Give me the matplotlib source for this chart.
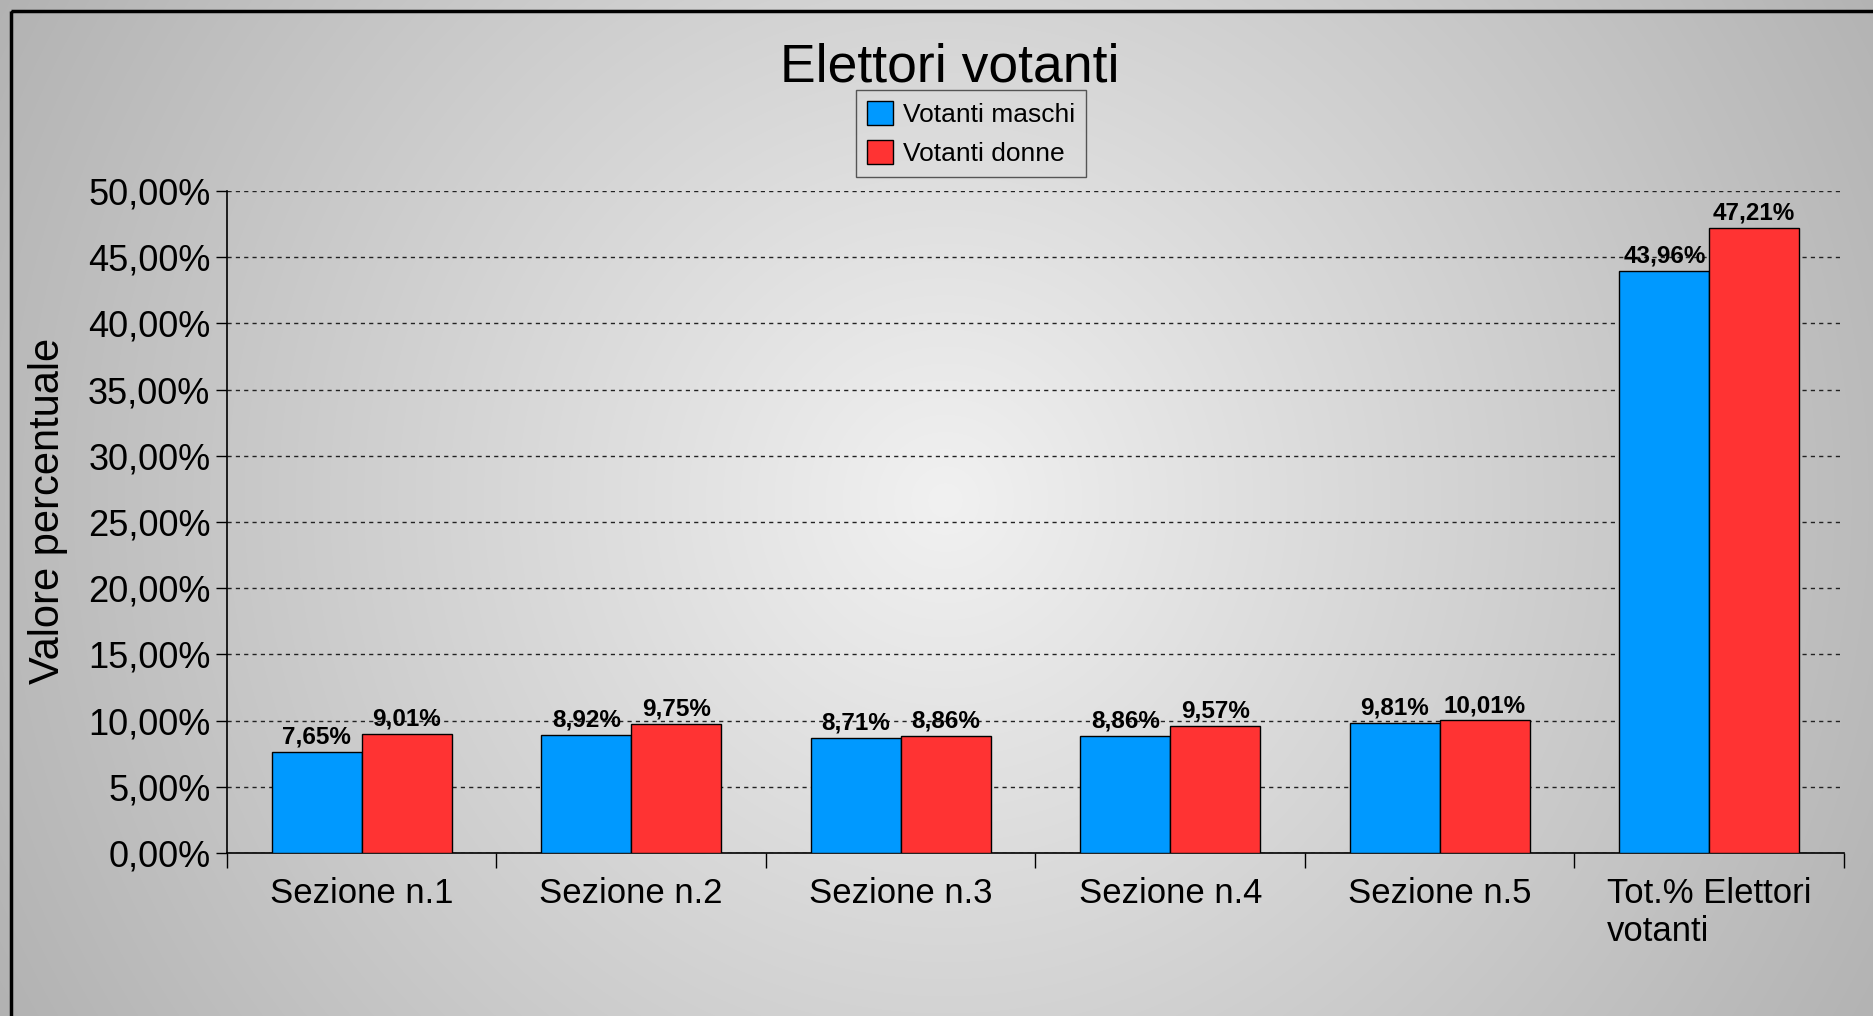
import numpy as np
import matplotlib
matplotlib.use("Agg")
import matplotlib.pyplot as plt
from matplotlib.patches import Rectangle
from matplotlib.ticker import FixedLocator, FuncFormatter

plt.rcParams['font.family'] = ['Liberation Sans', 'DejaVu Sans']

categories = ["Sezione n.1", "Sezione n.2", "Sezione n.3", "Sezione n.4", "Sezione n.5",
              "Tot.% Elettori\nvotanti"]
maschi = [7.65, 8.92, 8.71, 8.86, 9.81, 43.96]
donne = [9.01, 9.75, 8.86, 9.57, 10.01, 47.21]
series_names = ["Votanti maschi", "Votanti donne"]
yticks = [0, 5, 10, 15, 20, 25, 30, 35, 40, 45, 50]

W, H = 1874, 1016
fig = plt.figure(figsize=(W / 100, H / 100), dpi=100)

# radial gradient background
bg = fig.add_axes([0, 0, 1, 1], zorder=-10)
yy, xx = np.mgrid[0:H, 0:W]
cx, cy = 945, 500
r = np.sqrt((xx - cx) ** 2 + (yy - cy) ** 2)
val = 241 - 62 * r / 1060.0
val = np.clip(val, 170, 245) / 255.0
img = np.dstack([val, val, val])
bg.imshow(img, extent=[0, W, H, 0], aspect='auto', interpolation='bilinear')
bg.set_xlim(0, W)
bg.set_ylim(H, 0)
bg.axis('off')
# frame (left and top visible)
bg.add_patch(Rectangle((11, 11), W + 50, H + 50, fill=False, edgecolor='black', linewidth=2.5))

ax = fig.add_axes([227 / W, 1 - 853 / H, (1844 - 227) / W, (853 - 191) / H])
ax.set_facecolor('none')

x = np.arange(len(categories))
w = 1 / 3
b1 = ax.bar(x - w / 2, maschi, w, color='#0099ff', edgecolor='black', linewidth=1, zorder=3,
            label=series_names[0])
b2 = ax.bar(x + w / 2, donne, w, color='#ff3333', edgecolor='black', linewidth=1, zorder=3,
            label=series_names[1])

fmt = lambda v: f"{v:.2f}".replace('.', ',') + '%'
for bars, vals in ((b1, maschi), (b2, donne)):
    for bar, v in zip(bars, vals):
        ax.text(bar.get_x() + bar.get_width() / 2, v + 0.25, fmt(v), ha='center', va='bottom',
                fontsize=17.5, fontweight='bold', zorder=4)

ax.set_xlim(-0.5, len(categories) - 0.5)
ax.set_ylim(0, 50)
ax.yaxis.set_major_locator(FixedLocator(yticks))
ax.yaxis.set_major_formatter(FuncFormatter(lambda v, p: fmt(v)))
ax.tick_params(axis='y', labelsize=26, length=8, width=1, direction='out', pad=4)
ax.set_xticks(x)
ax.set_xticklabels(categories, fontsize=25)
for lbl in ax.get_xticklabels():
    lbl.set_multialignment('left')
ax.tick_params(axis='x', which='major', length=0, pad=17)
ax.set_xticks(np.arange(-0.5, len(categories), 1), minor=True)
ax.tick_params(axis='x', which='minor', length=11, width=1, direction='out')

ax.grid(axis='y', linestyle=(0, (3, 3)), color='#222222', linewidth=1, zorder=0)
ax.set_axisbelow(True)
for s in ('top', 'right'):
    ax.spines[s].set_visible(False)
ax.spines['left'].set_linewidth(1.2)
ax.spines['bottom'].set_linewidth(1.2)

fig.text(48 / W, 0.497, "Valore percentuale", rotation=90, ha='center', va='center', fontsize=30)
fig.text(950 / W, 1 - 67 / H, "Elettori votanti", ha='center', va='center', fontsize=38.5)

leg = fig.legend(handles=[b1, b2], labels=series_names, loc='upper left',
                 bbox_to_anchor=(856 / W, 1 - 90 / H), fontsize=19, frameon=True, fancybox=False,
                 handlelength=1.0, handleheight=1.0, handletextpad=0.35, labelspacing=0.5,
                 borderpad=0.42, borderaxespad=0)
leg.get_frame().set_edgecolor('#333333')
leg.get_frame().set_facecolor('none')
leg.get_frame().set_linewidth(1)

fig.savefig('out.png', dpi=100)
